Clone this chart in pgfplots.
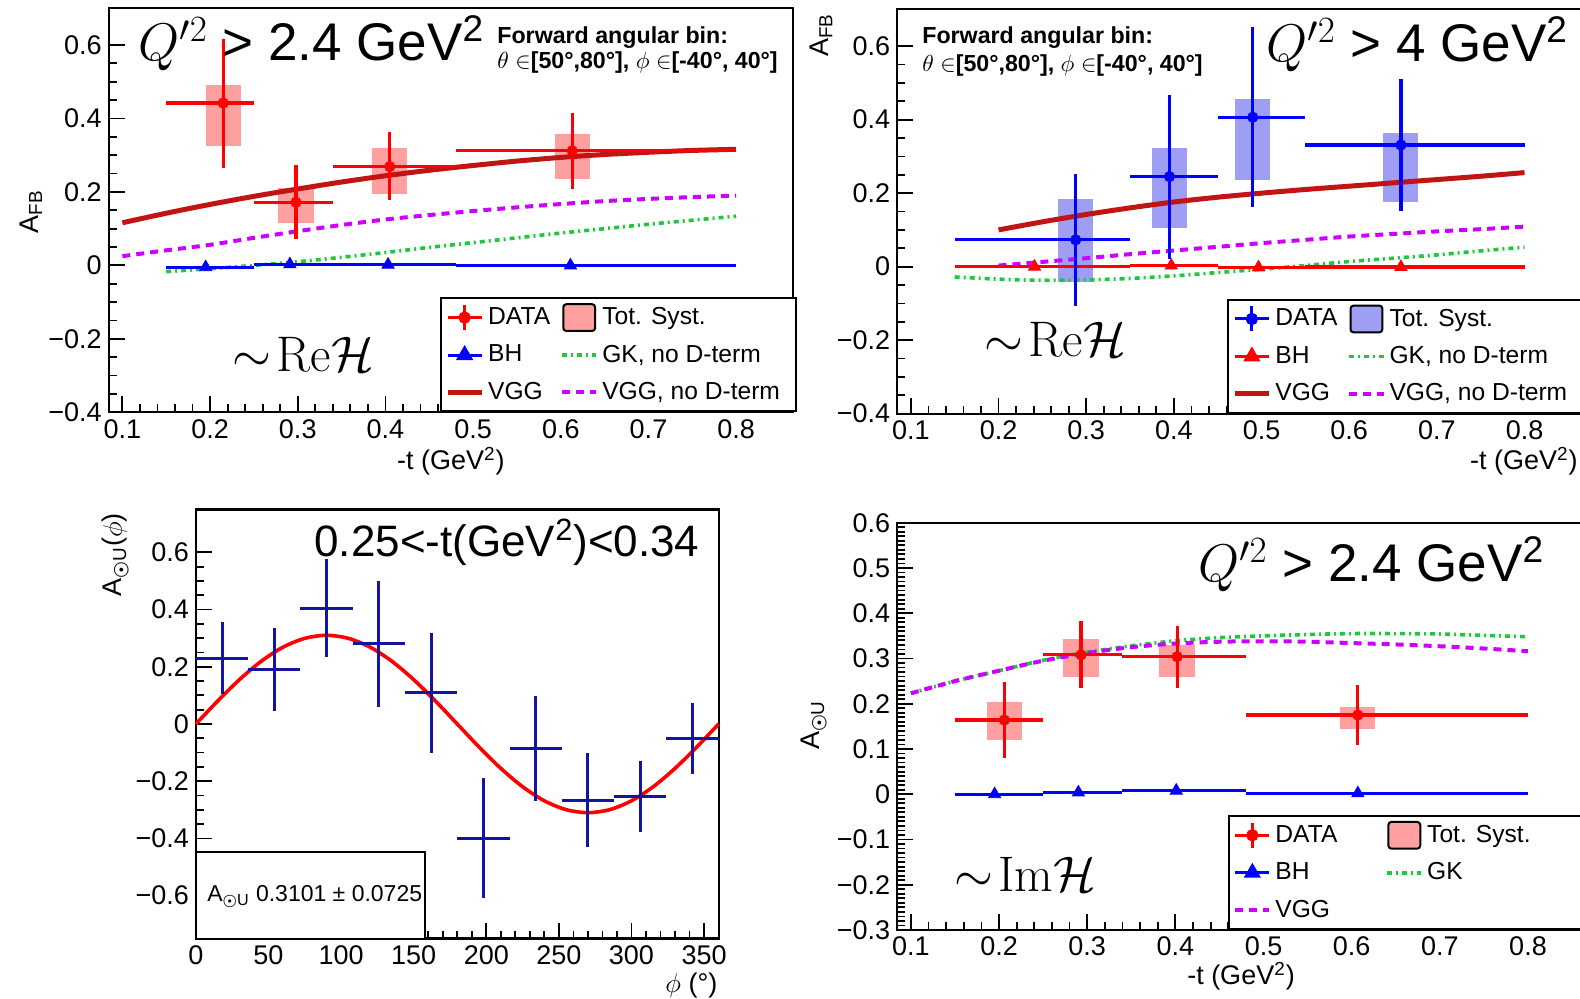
\RequirePackage{fix-cm}
\documentclass[border=0pt]{standalone}
\usepackage{amsmath,bm}
\usepackage[no-math]{fontspec}
\setmainfont{Liberation Sans}
\usepackage{pgfplots}
\pgfplotsset{compat=1.18}

\definecolor{datared}{RGB}{255,0,0}
\definecolor{systred}{RGB}{255,160,160}
\definecolor{datablue}{RGB}{0,0,255}
\definecolor{systblue}{RGB}{158,158,245}
\definecolor{vggred}{RGB}{195,20,20}
\definecolor{vggmag}{RGB}{205,0,255}
\definecolor{gkgreen}{RGB}{30,200,60}
\definecolor{navy}{RGB}{20,20,160}

\pgfplotsset{
  rootax/.style={
    scale only axis, clip=false,
    axis line style={line width=1.1pt},
    tick style={black, line width=0.9pt},
    tick align=inside, xtick pos=left, ytick pos=left,
    major tick length=8pt, minor tick length=4pt,
    tick label style={font=\fontsize{13.5}{15}\selectfont},
    legend cell align=left,
    legend columns=2,
    legend style={draw=black, line width=1pt, fill=white,
      font=\fontsize{12.3}{14}\selectfont, anchor=south west,
      inner xsep=2pt, inner ysep=2.5pt, row sep=4.5pt,
      /tikz/every even column/.append style={column sep=3pt}},
  },
  gkstyle/.style={gkgreen, line width=1.8pt, dash pattern=on 2.5pt off 2pt on 1pt off 2pt},
  vggstyle/.style={vggred, line width=2.5pt},
  vggnd/.style={vggmag, line width=2pt, dash pattern=on 4pt off 3pt},
  syst/.style={fill=#1, draw=none, forget plot},
  datast/.style={#1, mark=*, mark size=2.6pt, only marks, forget plot,
    error bars/.cd, x dir=both, x explicit, y dir=both, y explicit,
    error mark=none, error bar style={line width=1.6pt, #1}},
  bhst/.style={#1, mark=triangle*, mark size=3.5pt, only marks, forget plot,
    error bars/.cd, x dir=both, x explicit, error mark=none,
    error bar style={line width=1.6pt, #1}},
  datalegend/.style={legend image code/.code={
    \draw[#1,line width=1.5pt] (0cm,0cm)--(0.6cm,0cm);
    \draw[#1,line width=1.5pt] (0.3cm,-0.22cm)--(0.3cm,0.22cm);
    \fill[#1] (0.3cm,0cm) circle (2.6pt);}},
  systlegend/.style={legend image code/.code={
    \draw[black,line width=1pt,fill=#1,rounded corners=1.5pt] (0.02cm,-0.235cm) rectangle (0.58cm,0.235cm);}},
}

\newcommand{\bigf}{\fontsize{26.5}{30}\selectfont}
\newcommand{\labf}{\fontsize{13.5}{15}\selectfont}
\newcommand{\fwdf}{\fontsize{11.6}{13}\selectfont\bfseries}

\begin{document}
\begin{tikzpicture}
\path[use as bounding box] (0,0) rectangle (790pt,499pt);

%================ Panel 1 (top left) =================
\begin{axis}[rootax, at={(54.35pt,292.85pt)}, anchor=south west,
  width=342.15pt, height=202pt,
  xmin=0.0844, xmax=0.8648, ymin=-0.4, ymax=0.7,
  xtick={0.1,0.2,0.3,0.4,0.5,0.6,0.7,0.8},
  xticklabels={0.1,0.2,0.3,0.4,0.5,0.6,0.7,0.8},
  ytick={-0.4,-0.2,0,0.2,0.4,0.6},
  yticklabels={−0.4,−0.2,0,0.2,0.4,0.6},
  minor x tick num=4, minor y tick num=3,
  legend style={at={(0.4842,0)}}]
% systematic boxes
\addplot[syst=systred] coordinates {(0.195,0.326) (0.235,0.326) (0.235,0.492) (0.195,0.492)} -- cycle;
\addplot[syst=systred] coordinates {(0.278,0.115) (0.318,0.115) (0.318,0.210) (0.278,0.210)} -- cycle;
\addplot[syst=systred] coordinates {(0.385,0.194) (0.425,0.194) (0.425,0.319) (0.385,0.319)} -- cycle;
\addplot[syst=systred] coordinates {(0.593,0.2345) (0.633,0.2345) (0.633,0.358) (0.593,0.358)} -- cycle;
% theory
\addplot[gkstyle, forget plot, smooth] coordinates {(0.15,-0.017) (0.2,-0.009) (0.25,0.0) (0.3,0.01) (0.35,0.022) (0.4,0.035) (0.45,0.049) (0.5,0.062) (0.55,0.075) (0.6,0.088) (0.65,0.1) (0.7,0.112) (0.75,0.123) (0.8,0.134)};
\addplot[vggnd, forget plot, smooth] coordinates {(0.1,0.025) (0.15,0.041) (0.2,0.056) (0.25,0.075) (0.3,0.093) (0.35,0.11) (0.4,0.125) (0.45,0.137) (0.5,0.148) (0.55,0.158) (0.6,0.167) (0.65,0.175) (0.7,0.181) (0.75,0.186) (0.8,0.19)};
\addplot[vggstyle, forget plot, smooth] coordinates {(0.1,0.116) (0.15,0.142) (0.2,0.166) (0.25,0.188) (0.3,0.208) (0.35,0.227) (0.4,0.244) (0.45,0.259) (0.5,0.272) (0.55,0.284) (0.6,0.294) (0.65,0.302) (0.7,0.308) (0.75,0.313) (0.8,0.316)};
% BH
\addplot[bhst=datablue] table[x=x,y=y,x error plus=xp,x error minus=xm] {
x y xm xp
0.195 -0.005 0.045 0.055
0.291 0.003 0.041 0.049
0.403 0.002 0.063 0.077
0.611 0.0 0.131 0.189
};
% DATA
\addplot[datast=datared] table[x=x,y=y,x error plus=xp,x error minus=xm,y error plus=yp,y error minus=ym] {
x y xm xp ym yp
0.215 0.442 0.065 0.035 0.177 0.174
0.298 0.172 0.048 0.042 0.101 0.100
0.405 0.269 0.065 0.075 0.091 0.093
0.613 0.312 0.133 0.187 0.105 0.1025
};
\addlegendimage{datalegend=datared}\addlegendentry{DATA}
\addlegendimage{systlegend=systred}\addlegendentry{Tot. Syst.}
\addlegendimage{datablue, line width=1.5pt, mark=triangle*, mark size=3.5pt}\addlegendentry{BH}
\addlegendimage{gkstyle}\addlegendentry{GK, no D-term}
\addlegendimage{vggstyle}\addlegendentry{VGG}
\addlegendimage{vggnd}\addlegendentry{\makebox[93pt][l]{VGG, no D-term}}
\node[anchor=base west, inner sep=0, font=\bigf] at (rel axis cs:0.043,0.8696) {$Q'^{2}$ > 2.4 GeV\textsuperscript{2}};
\node[anchor=base west, inner sep=0, font=\fwdf] at (rel axis cs:0.5674,0.913) {Forward angular bin:};
\node[anchor=base west, inner sep=0, font=\fwdf] at (rel axis cs:0.5674,0.851) {$\theta$ $\in$[50°,80°], $\phi$ $\in$[-40°, 40°]};
\node[anchor=base west, inner sep=0, font=\fontsize{25}{28}\selectfont] at (rel axis cs:0.18,0.1005) {$\sim\!\mathrm{Re}\mathcal{H}$};
\node[anchor=base, inner sep=0, font=\labf] at (rel axis cs:0.5,-0.1428) {-t (GeV\textsuperscript{2})};
\node[anchor=base, rotate=90, inner sep=0, font=\labf] at (rel axis cs:-0.1033,0.497) {A\textsubscript{FB}};
\end{axis}

%================ Panel 2 (top right) =================
\begin{axis}[rootax, at={(448.65pt,292.15pt)}, anchor=south west,
  width=342.1pt, height=202.15pt,
  xmin=0.0845, xmax=0.865, ymin=-0.4, ymax=0.7,
  xtick={0.1,0.2,0.3,0.4,0.5,0.6,0.7,0.8},
  xticklabels={0.1,0.2,0.3,0.4,0.5,0.6,0.7,0.8},
  ytick={-0.4,-0.2,0,0.2,0.4,0.6},
  yticklabels={−0.4,−0.2,0,0.2,0.4,0.6},
  minor x tick num=4, minor y tick num=3,
  legend style={at={(0.4823,0)}}]
\addplot[syst=systblue] coordinates {(0.268,-0.041) (0.308,-0.041) (0.308,0.183) (0.268,0.183)} -- cycle;
\addplot[syst=systblue] coordinates {(0.375,0.1045) (0.415,0.1045) (0.415,0.322) (0.375,0.322)} -- cycle;
\addplot[syst=systblue] coordinates {(0.47,0.236) (0.51,0.236) (0.51,0.455) (0.47,0.455)} -- cycle;
\addplot[syst=systblue] coordinates {(0.639,0.177) (0.679,0.177) (0.679,0.363) (0.639,0.363)} -- cycle;
\addplot[gkstyle, forget plot, smooth] coordinates {(0.15,-0.028) (0.2,-0.034) (0.25,-0.037) (0.3,-0.036) (0.35,-0.032) (0.4,-0.025) (0.45,-0.016) (0.5,-0.007) (0.55,0.003) (0.6,0.014) (0.65,0.023) (0.7,0.032) (0.75,0.043) (0.8,0.053)};
\addplot[vggnd, forget plot, smooth] coordinates {(0.2,0.003) (0.25,0.013) (0.3,0.023) (0.35,0.034) (0.4,0.044) (0.45,0.054) (0.5,0.064) (0.55,0.073) (0.6,0.082) (0.65,0.089) (0.7,0.096) (0.75,0.102) (0.8,0.109)};
\addplot[vggstyle, forget plot, smooth] coordinates {(0.2,0.1) (0.25,0.122) (0.3,0.142) (0.35,0.16) (0.4,0.176) (0.45,0.189) (0.5,0.2) (0.55,0.21) (0.6,0.219) (0.65,0.228) (0.7,0.237) (0.75,0.246) (0.8,0.256)};
\addplot[bhst=datared] table[x=x,y=y,x error plus=xp,x error minus=xm] {
x y xm xp
0.241 0.0 0.091 0.109
0.397 0.003 0.047 0.053
0.4965 -0.002 0.0465 0.0535
0.659 -0.001 0.109 0.141
};
\addplot[datast=datablue] table[x=x,y=y,x error plus=xp,x error minus=xm,y error plus=yp,y error minus=ym] {
x y xm xp ym yp
0.288 0.073 0.138 0.062 0.180 0.179
0.395 0.245 0.045 0.055 0.225 0.222
0.49 0.4065 0.04 0.06 0.245 0.2465
0.659 0.331 0.109 0.141 0.179 0.18
};
\addlegendimage{datalegend=datablue}\addlegendentry{DATA}
\addlegendimage{systlegend=systblue}\addlegendentry{Tot. Syst.}
\addlegendimage{datared, line width=1.5pt, mark=triangle*, mark size=3.5pt}\addlegendentry{BH}
\addlegendimage{gkstyle}\addlegendentry{GK, no D-term}
\addlegendimage{vggstyle}\addlegendentry{VGG}
\addlegendimage{vggnd}\addlegendentry{\makebox[96pt][l]{VGG, no D-term}}
\node[anchor=base west, inner sep=0, font=\fwdf] at (rel axis cs:0.036,0.916) {Forward angular bin:};
\node[anchor=base west, inner sep=0, font=\fwdf] at (rel axis cs:0.036,0.846) {$\theta$ $\in$[50°,80°], $\phi$ $\in$[-40°, 40°]};
\node[anchor=base west, inner sep=0, font=\bigf] at (rel axis cs:0.539,0.871) {$Q'^{2}$ > 4 GeV\textsuperscript{2}};
\node[anchor=base west, inner sep=0, font=\fontsize{25}{28}\selectfont] at (rel axis cs:0.1266,0.141) {$\sim\!\mathrm{Re}\mathcal{H}$};
\node[anchor=base east, inner sep=0, font=\labf] at (rel axis cs:0.995,-0.139) {-t (GeV\textsuperscript{2})};
\node[anchor=base east, rotate=90, inner sep=0, font=\labf] at (rel axis cs:-0.101,0.991) {A\textsubscript{FB}};
\end{axis}

%================ Panel 3 (bottom left) =================
\begin{axis}[rootax, at={(97.95pt,29.75pt)}, anchor=south west,
  width=261.35pt, height=214.5pt,
  xmin=0, xmax=360, ymin=-0.75, ymax=0.75,
  xtick={0,50,100,150,200,250,300,350},
  xticklabels={0,50,100,150,200,250,300,350},
  ytick={-0.6,-0.4,-0.2,0,0.2,0.4,0.6},
  yticklabels={−0.6,−0.4,−0.2,0,0.2,0.4,0.6},
  minor x tick num=4, minor y tick num=3]
\addplot[red, line width=1.8pt, smooth, forget plot] coordinates {(0,0) (15,0.0803) (30,0.1551) (45,0.2193) (60,0.2686) (75,0.2995) (90,0.3101) (105,0.2995) (120,0.2686) (135,0.2193) (150,0.1551) (165,0.0803) (180,0) (195,-0.0803) (210,-0.1551) (225,-0.2193) (240,-0.2686) (255,-0.2995) (270,-0.3101) (285,-0.2995) (300,-0.2686) (315,-0.2193) (330,-0.1551) (345,-0.0803) (360,0)};
\addplot[navy, only marks, mark=text, text mark={}, forget plot,
  error bars/.cd, x dir=both, x fixed=18, y dir=both, y explicit, error mark=none,
  error bar style={line width=1.5pt, navy}] table[x=x,y=y,y error=e] {
x y e
18 0.23 0.125
54 0.19 0.144
90 0.405 0.172
126 0.28 0.22
162 0.109 0.21
198 -0.40 0.21
234 -0.085 0.183
270 -0.266 0.165
306 -0.254 0.123
342 -0.05 0.124
};
\draw[line width=1pt, fill=white] (rel axis cs:0,0) rectangle (rel axis cs:0.439,0.2023);
\node[anchor=base west, inner sep=0, font=\fontsize{11.5}{13}\selectfont] at (rel axis cs:0.021,0.0858) {A\textsubscript{$\bm{\odot}$U} 0.3101 ± 0.0725};
\node[anchor=base west, inner sep=0, font=\fontsize{22}{25}\selectfont] at (rel axis cs:0.226,0.89) {0.25<-t(GeV\textsuperscript{2})<0.34};
\node[anchor=base east, inner sep=0, font=\labf] at (rel axis cs:0.9985,-0.127) {$\phi$ (°)};
\node[anchor=base east, rotate=90, inner sep=0, font=\labf] at (rel axis cs:-0.1414,0.992) {A\textsubscript{$\bm{\odot}$U}($\phi$)};
\end{axis}

%================ Panel 4 (bottom right) =================
\begin{axis}[rootax, at={(448.65pt,34pt)}, anchor=south west,
  width=344pt, height=203.65pt,
  xmin=0.0846, xmax=0.865, ymin=-0.3, ymax=0.6,
  xtick={0.1,0.2,0.3,0.4,0.5,0.6,0.7,0.8},
  xticklabels={0.1,0.2,0.3,0.4,0.5,0.6,0.7,0.8},
  ytick={-0.3,-0.2,-0.1,0,0.1,0.2,0.3,0.4,0.5,0.6},
  yticklabels={−0.3,−0.2,−0.1,0,0.1,0.2,0.3,0.4,0.5,0.6},
  minor x tick num=4, minor y tick num=9,
  legend style={at={(0.4811,0)}}]
\addplot[syst=systred] coordinates {(0.186,0.119) (0.226,0.119) (0.226,0.2046) (0.186,0.2046)} -- cycle;
\addplot[syst=systred] coordinates {(0.273,0.259) (0.313,0.259) (0.313,0.344) (0.273,0.344)} -- cycle;
\addplot[syst=systred] coordinates {(0.382,0.259) (0.422,0.259) (0.422,0.329) (0.382,0.329)} -- cycle;
\addplot[syst=systred] coordinates {(0.587,0.145) (0.627,0.145) (0.627,0.1936) (0.587,0.1936)} -- cycle;
\addplot[gkstyle, forget plot, smooth] coordinates {(0.1,0.223) (0.15,0.25) (0.2,0.273) (0.25,0.296) (0.3,0.314) (0.35,0.328) (0.4,0.339) (0.45,0.346) (0.5,0.35) (0.55,0.353) (0.6,0.355) (0.65,0.355) (0.7,0.354) (0.75,0.351) (0.8,0.348)};
\addplot[vggnd, forget plot, smooth] coordinates {(0.1,0.223) (0.15,0.25) (0.2,0.273) (0.25,0.295) (0.3,0.312) (0.35,0.325) (0.4,0.333) (0.45,0.337) (0.5,0.338) (0.55,0.337) (0.6,0.334) (0.65,0.331) (0.7,0.327) (0.75,0.322) (0.8,0.316)};
\addplot[bhst=datablue] table[x=x,y=y,x error plus=xp,x error minus=xm] {
x y xm xp
0.195 0.0 0.045 0.055
0.29 0.004 0.04 0.05
0.401 0.008 0.061 0.079
0.607 0.002 0.127 0.193
};
\addplot[datast=datared] table[x=x,y=y,x error plus=xp,x error minus=xm,y error plus=yp,y error minus=ym] {
x y xm xp ym yp
0.206 0.164 0.056 0.044 0.0845 0.085
0.293 0.308 0.043 0.047 0.074 0.075
0.402 0.304 0.062 0.078 0.0685 0.068
0.607 0.175 0.127 0.193 0.066 0.0665
};
\addlegendimage{datalegend=datared}\addlegendentry{\makebox[50pt][l]{DATA}}
\addlegendimage{systlegend=systred}\addlegendentry{\makebox[82pt][l]{Tot. Syst.}}
\addlegendimage{datablue, line width=1.5pt, mark=triangle*, mark size=3.5pt}\addlegendentry{BH}
\addlegendimage{gkstyle}\addlegendentry{GK}
\addlegendimage{vggnd}\addlegendentry{VGG}
\node[anchor=base west, inner sep=0, font=\bigf] at (rel axis cs:0.437,0.855) {$Q'^{2}$ > 2.4 GeV\textsuperscript{2}};
\node[anchor=base west, inner sep=0, font=\fontsize{25}{28}\selectfont] at (rel axis cs:0.082,0.094) {$\sim\!\mathrm{Im}\mathcal{H}$};
\node[anchor=base, inner sep=0, font=\labf] at (rel axis cs:0.4996,-0.135) {-t (GeV\textsuperscript{2})};
\node[anchor=base, rotate=90, inner sep=0, font=\labf] at (rel axis cs:-0.1124,0.503) {A\textsubscript{$\bm{\odot}$U}};
\end{axis}
\end{tikzpicture}
\end{document}
